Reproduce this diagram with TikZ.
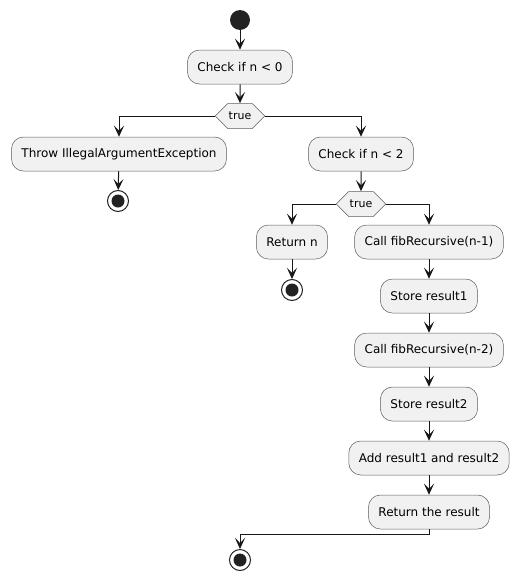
\documentclass[tikz,border=0pt]{standalone}
\usepackage{fontspec}
\setmainfont{DejaVu Sans}
\usetikzlibrary{arrows.meta,shapes.symbols}
\definecolor{boxfill}{HTML}{F1F1F1}
\definecolor{ink}{HTML}{181818}
\definecolor{dot}{HTML}{222222}
\begin{document}
\begin{tikzpicture}[x=1pt,y=-1pt,
  act/.style={draw=ink!70,line width=0.5pt,fill=boxfill,rounded corners=12pt,
    minimum height=34pt,inner xsep=10pt,font=\fontsize{12}{14}\selectfont},
  choice/.style={shape=signal,signal to=east and west,draw=ink!70,line width=0.5pt,fill=boxfill,
    minimum height=25pt,inner xsep=1pt,inner ysep=0pt,font=\fontsize{11}{13}\selectfont},
  startdot/.style={circle,fill=dot,minimum size=20pt,inner sep=0pt},
  enddot/.style={circle,draw=dot,line width=1pt,fill=white,minimum size=21pt,inner sep=0pt,
    path picture={\fill[dot] (path picture bounding box.center) circle (6.5pt);}},
  flow/.style={draw=ink,line width=1pt,-{Stealth[length=11pt,width=10pt,inset=5pt]}}
]
\useasboundingbox (0,0) rectangle (519,581);
\node[startdot] (start) at (240,20) {};
\node[act] (c0) at (240,67) {Check if n < 0};
\node[choice] (d1) at (240,116) {true};
\node[act] (thr) at (119,154) {Throw IllegalArgumentException};
\node[enddot] (e1) at (118,201) {};
\node[act] (c2) at (361,154) {Check if n < 2};
\node[choice] (d2) at (361,204) {true};
\node[act] (rn) at (292,242) {Return n};
\node[enddot] (e2) at (292,290) {};
\node[act] (f1) at (429,242) {Call fibRecursive(n-1)};
\node[act] (s1) at (429,296) {Store result1};
\node[act] (f2) at (429,350) {Call fibRecursive(n-2)};
\node[act] (s2) at (429,404) {Store result2};
\node[act] (ad) at (429,458) {Add result1 and result2};
\node[act] (rr) at (429,512) {Return the result};
\node[enddot] (e3) at (240,560) {};
\coordinate (bend) at (429,534);

\draw[flow] (start) -- (c0);
\draw[flow] (c0) -- (d1);
\draw[flow] (d1.west) -| (thr.north);
\draw[flow] (d1.east) -| (c2.north);
\draw[flow] (thr) -- (e1);
\draw[flow] (c2) -- (d2);
\draw[flow] (d2.west) -| (rn.north);
\draw[flow] (d2.east) -| (f1.north);
\draw[flow] (rn) -- (e2);
\draw[flow] (f1) -- (s1);
\draw[flow] (s1) -- (f2);
\draw[flow] (f2) -- (s2);
\draw[flow] (s2) -- (ad);
\draw[flow] (ad) -- (rr);
\draw[flow] (rr.south) -- (bend) -| (e3.north);
\end{tikzpicture}
\end{document}
